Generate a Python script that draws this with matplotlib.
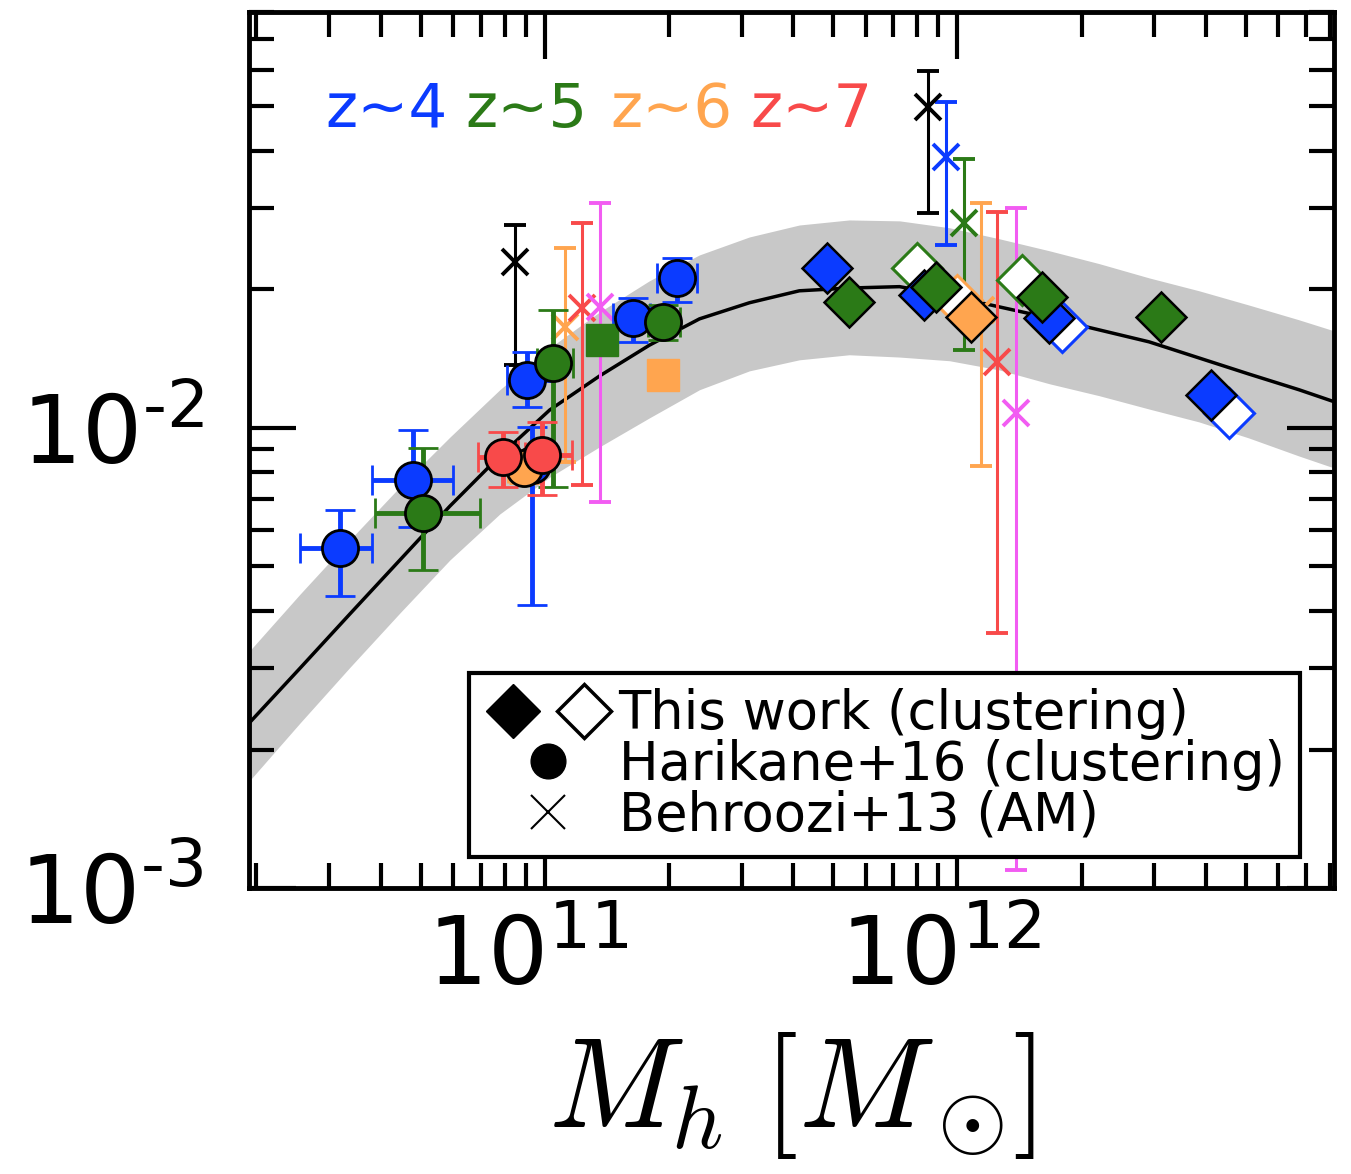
import numpy as np
import matplotlib.pyplot as plt
import matplotlib.transforms as mtransforms
from matplotlib.lines import Line2D
from matplotlib.legend_handler import HandlerTuple
from matplotlib.ticker import FuncFormatter, NullFormatter, LogLocator

# model curve + grey band, all in log10
mh_grid = [10.286, 10.407, 10.528, 10.649, 10.770, 10.891, 11.012, 11.133, 11.254, 11.375, 11.496, 11.617,
           11.738, 11.860, 11.981, 12.102, 12.223, 12.344, 12.465, 12.586, 12.707, 12.828, 12.913]
model_mid = [-2.639, -2.522, -2.404, -2.287, -2.170, -2.061, -1.961, -1.887, -1.820, -1.763, -1.728, -1.702,
             -1.696, -1.693, -1.713, -1.737, -1.761, -1.787, -1.813, -1.848, -1.883, -1.917, -1.943]
model_hi = [-2.483, -2.361, -2.243, -2.128, -2.020, -1.917, -1.826, -1.748, -1.680, -1.624, -1.585, -1.559,
            -1.548, -1.550, -1.565, -1.589, -1.615, -1.643, -1.674, -1.702, -1.733, -1.765, -1.789]
model_lo = [-2.765, -2.641, -2.520, -2.402, -2.287, -2.187, -2.107, -2.041, -1.978, -1.917, -1.876, -1.852,
            -1.841, -1.846, -1.854, -1.874, -1.904, -1.930, -1.959, -1.987, -2.022, -2.061, -2.087]

# Harikane+16 (clustering), log10 values: x, y, x range, y range
h16 = {
    '4': dict(x=[10.504, 10.680, 10.956, 10.969, 11.213, 11.320],
              y=[-2.261, -2.113, -1.896, -2.080, -1.761, -1.674],
              xlo=[10.407, 10.581, 10.908, 10.969, 11.165, 11.271],
              xhi=[10.581, 10.777, 11.019, 10.969, 11.254, 11.368],
              ylo=[-2.365, -2.215, -1.954, -2.385, -1.813, -1.726],
              yhi=[-2.178, -2.004, -1.835, -1.998, -1.717, -1.630]),
    '5': dict(x=[10.705, 11.019, 11.286], y=[-2.185, -1.859, -1.770],
              xlo=[10.588, 10.981, 11.249], xhi=[10.843, 11.068, 11.327],
              ylo=[-2.309, -2.128, -1.809], yhi=[-2.043, -1.743, -1.733]),
    '6': dict(x=[10.950], y=[-2.088], xlo=[10.910], xhi=[10.995], ylo=[-2.120], yhi=[-2.065]),
    '7': dict(x=[10.898, 10.993], y=[-2.063, -2.059],
              xlo=[10.838, 10.935], xhi=[10.952, 11.065],
              ylo=[-2.128, -2.146], yhi=[-2.009, -1.987]),
}

# square points (no error bars)
sq_x = [11.138, 11.286]
sq_y = [-1.809, -1.885]
sq_z = ['5', '6']

# Behroozi+13 (AM)
b13_x = [10.927, 11.048, 11.090, 11.133, 11.930, 11.973, 12.017, 12.058, 12.097, 12.143]
b13_y = [-1.639, -1.780, -1.739, -1.737, -1.302, -1.411, -1.554, -1.743, -1.857, -1.967]
b13_ylo = [-1.863, -2.074, -2.124, -2.161, -1.533, -1.602, -1.830, -2.083, -2.446, -2.961]
b13_yhi = [-1.559, -1.609, -1.554, -1.511, -1.224, -1.291, -1.415, -1.511, -1.530, -1.522]
b13_z = ['3', '6', '7', '8', '3', '4', '5', '6', '7', '8']

# this work: filled and open diamonds
tw_x = [11.685, 11.738, 11.920, 11.949, 12.034, 12.206, 12.223, 12.494, 12.615]
tw_y = [-1.652, -1.726, -1.711, -1.693, -1.759, -1.715, -1.761, -1.759, -1.928]
tw_z = ['4', '5', '4', '5', '6', '5', '4', '5', '4']
two_x = [11.903, 11.998, 12.157, 12.254, 12.659]
two_y = [-1.652, -1.722, -1.678, -1.780, -1.967]
two_z = ['5', '6', '5', '4', '4']

col = {'3': 'k', '4': '#0b3bff', '5': '#2b7a17', '6': '#ffa54f', '7': '#f84a4a', '8': '#f25cf2'}

p = lambda a: 10 ** np.asarray(a, dtype=float)

fig = plt.figure(figsize=(13.51, 11.74), dpi=100)
ax = fig.add_axes([0.1843, 0.2436, 0.8031, 0.7462])
ax.set_xscale('log')
ax.set_yscale('log')

ax.fill_between(p(mh_grid), p(model_lo), p(model_hi), color='#c8c8c8', lw=0, zorder=1)
ax.plot(p(mh_grid), p(model_mid), color='k', lw=2.5, zorder=2)

# Behroozi crosses
for i in range(len(b13_x)):
    y = p(b13_y[i])
    ax.errorbar(p(b13_x[i]), y, yerr=[[y - p(b13_ylo[i])], [p(b13_yhi[i]) - y]],
                fmt='x', ms=19, mew=2.8, color=col[b13_z[i]], elinewidth=2.2,
                capsize=8, capthick=3, zorder=3)

# Harikane circles
for z in ['4', '5', '6', '7']:
    d = h16[z]
    x, y = p(d['x']), p(d['y'])
    ax.errorbar(x, y, xerr=[x - p(d['xlo']), p(d['xhi']) - x],
                yerr=[y - p(d['ylo']), p(d['yhi']) - y],
                fmt='o', ms=26, mfc=col[z], mec='k', mew=2, ecolor=col[z],
                elinewidth=3.5, capsize=11, capthick=3.5, zorder=4)

for i in range(len(sq_x)):
    ax.plot(p(sq_x[i]), p(sq_y[i]), 's', ms=23, color=col[sq_z[i]], mec=col[sq_z[i]], zorder=4)

# this work
for z in ['4', '5', '6']:
    xo = [two_x[i] for i in range(len(two_x)) if two_z[i] == z]
    yo = [two_y[i] for i in range(len(two_y)) if two_z[i] == z]
    ax.plot(p(xo), p(yo), 'D', ls='none', ms=25, mfc='w', mec=col[z], mew=2.2, zorder=5)
for z in ['4', '5', '6']:
    xf = [tw_x[i] for i in range(len(tw_x)) if tw_z[i] == z]
    yf = [tw_y[i] for i in range(len(tw_y)) if tw_z[i] == z]
    ax.plot(p(xf), p(yf), 'D', ls='none', ms=25, mfc=col[z], mec='k', mew=1.8, zorder=6)

ax.set_xlim(10 ** 10.283, 10 ** 12.913)
ax.set_ylim(1e-3, 10 ** -1.096)

for s in ax.spines.values():
    s.set_linewidth(3.5)
ax.tick_params(which='both', direction='in', top=True, right=True, width=3)
ax.tick_params(which='major', length=34, labelsize=68)
ax.tick_params(which='minor', length=18)
ax.tick_params(axis='y', pad=33)
ax.tick_params(axis='x', pad=18)


def fmt(v, pos):
    e = int(round(np.log10(v)))
    s = str(e).replace('-', r'\text{-}')
    return r'$10^{%s}$' % s


ax.xaxis.set_major_locator(LogLocator(base=10))
ax.yaxis.set_major_locator(LogLocator(base=10))
ax.xaxis.set_major_formatter(FuncFormatter(fmt))
ax.yaxis.set_major_formatter(FuncFormatter(fmt))
ax.xaxis.set_minor_formatter(NullFormatter())
ax.yaxis.set_minor_formatter(NullFormatter())

# nudge x tick labels a little to the left, like the original
shift = mtransforms.ScaledTranslation(-0.17, 0, fig.dpi_scale_trans)
for t in ax.xaxis.get_major_ticks():
    t.label1.set_transform(t.label1.get_transform() + shift)

ax.set_xlabel(r'$M_h\;[M_\odot\!]$', fontsize=92, math_fontfamily='cm', labelpad=18)

# redshift labels
zt = [('z~4', '4', 0.070), ('z~5', '5', 0.199), ('z~6', '6', 0.333), ('z~7', '7', 0.462)]
for t, z, xp in zt:
    ax.text(xp, 0.8687, t, color=col[z], fontsize=44, transform=ax.transAxes, va='baseline')

h_fill = Line2D([], [], ls='none', marker='D', ms=27, mfc='k', mec='k')
h_open = Line2D([], [], ls='none', marker='D', ms=27, mfc='w', mec='k', mew=2.5)
h_circ = Line2D([], [], ls='none', marker='o', ms=25, mfc='k', mec='k')
h_x = Line2D([], [], ls='none', marker='x', ms=24, mew=1.5, color='k')
leg = ax.legend([(h_fill, h_open), h_circ, h_x],
                ['This work (clustering)', 'Harikane+16 (clustering)', 'Behroozi+13 (AM)'],
                handler_map={tuple: HandlerTuple(ndivide=None, pad=0.3)},
                loc='lower right', bbox_to_anchor=(0.969, 0.0354), borderaxespad=0,
                fontsize=38, handlelength=2.4, handletextpad=0.13, borderpad=0.3,
                labelspacing=-0.03, fancybox=False, framealpha=1, edgecolor='k', numpoints=1)
leg.get_frame().set_linewidth(3)
leg.set_zorder(10)

fig.savefig('out.png', dpi=100)
